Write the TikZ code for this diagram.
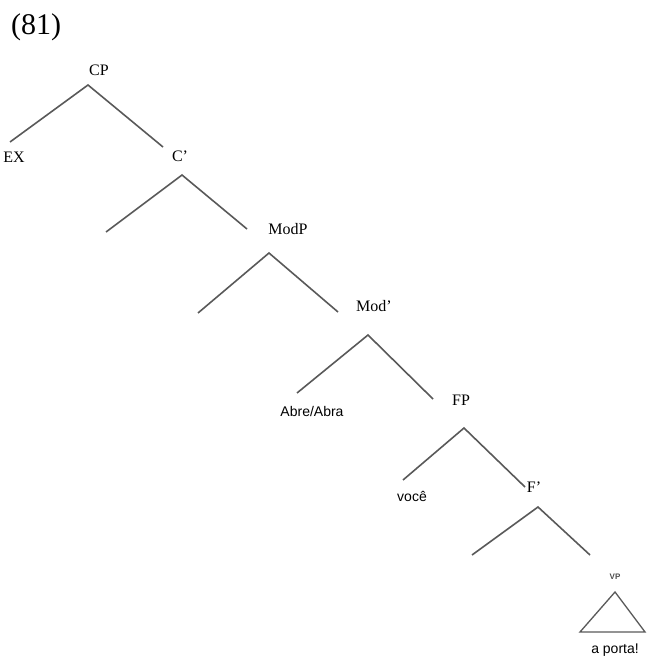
\documentclass[tikz,border=0pt]{standalone}
\usepackage{fontspec}
\setmainfont{Liberation Serif}
\newfontfamily\wordfont{Liberation Sans}
\usetikzlibrary{positioning}

\begin{document}
\begin{tikzpicture}[
    x=1pt, y=-1pt,
    cat/.style={inner sep=0pt, font=\fontsize{16}{16}\selectfont},
    word/.style={inner sep=0pt, font=\wordfont\fontsize{14}{14}\selectfont},
    branch/.style={draw=black!65, line width=1.6pt}
]
    \useasboundingbox (0,0) rectangle (646,658);

    \node[inner sep=0pt, font=\fontsize{30}{30}\selectfont] (num) at (36,27) {(81)};

    % category labels
    \node[cat] (cp) at (99,70) {CP};
    \node[cat, anchor=east] (ex) at (25,157) {EX};
    \node[cat] (cbar) at (180,156) {C'};
    \node[cat] (modp) at (288,229) {ModP};
    \node[cat] (modbar) at (374,306) {Mod'};
    \node[cat] (fp) at (461,400) {FP};
    \node[cat] (fbar) at (534,487) {F'};
    \node[inner sep=0pt, font=\wordfont\bfseries\fontsize{8}{8}\selectfont, text=black!70] (vp) at (615,577) {VP};

    % words
    \node[word] (abre) at (312,411) {Abre/Abra};
    \node[word] (voce) at (412,496) {você};
    \node[word] (porta) at (615,650) {a porta!};

    % branch points
    \coordinate (cpTop) at (88,85);
    \coordinate (cpL) at (10,142);
    \coordinate (cpR) at (163,147);
    \coordinate (cbarTop) at (182,175);
    \coordinate (cbarL) at (106,232);
    \coordinate (cbarR) at (247,229);
    \coordinate (modpTop) at (269,253);
    \coordinate (modpL) at (198,313);
    \coordinate (modpR) at (338,312);
    \coordinate (modbarTop) at (368,335);
    \coordinate (modbarL) at (297,393);
    \coordinate (modbarR) at (433,399);
    \coordinate (fpTop) at (464,428);
    \coordinate (fpL) at (403,480);
    \coordinate (fpR) at (525,487);
    \coordinate (fbarTop) at (538,507);
    \coordinate (fbarL) at (472,555);
    \coordinate (fbarR) at (590,555);
    \coordinate (vpTop) at (615,592);
    \coordinate (vpL) at (580,632);
    \coordinate (vpR) at (645,632);

    \draw[branch] (cpL) -- (cpTop) -- (cpR);
    \draw[branch] (cbarL) -- (cbarTop) -- (cbarR);
    \draw[branch] (modpL) -- (modpTop) -- (modpR);
    \draw[branch] (modbarL) -- (modbarTop) -- (modbarR);
    \draw[branch] (fpL) -- (fpTop) -- (fpR);
    \draw[branch] (fbarL) -- (fbarTop) -- (fbarR);
    \draw[branch, line width=1.3pt, line join=miter] (vpTop) -- (vpL) -- (vpR) -- cycle;
\end{tikzpicture}
\end{document}
